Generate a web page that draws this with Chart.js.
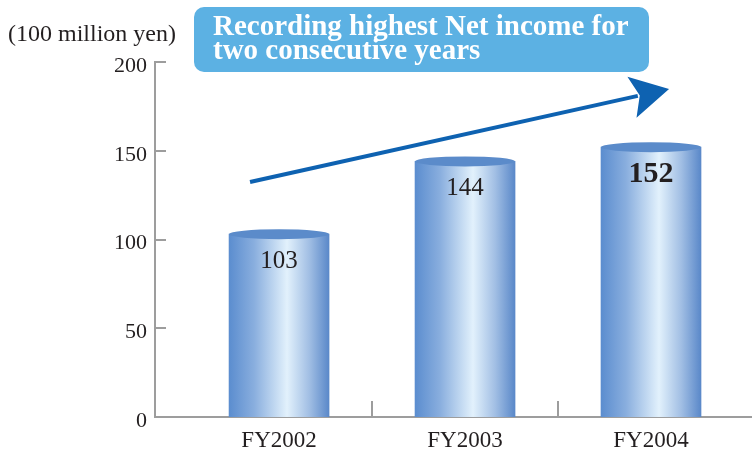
<!DOCTYPE html>
<html lang="en">
  <head>
    <meta charset="UTF-8" />
    <title>Net income</title>
    <script src="https://cdn.jsdelivr.net/npm/chart.js"></script>
    <style>
      html, body {
        margin: 0;
        padding: 0;
        background: #ffffff;
      }
      #wrap {
        width: 752px;
        height: 451px;
      }
    </style>
  </head>
  <body>
    <div id="wrap"><canvas id="chart" width="752" height="451"></canvas></div>

    <script>
      const categories = ["FY2002", "FY2003", "FY2004"];
      const netIncome = [103, 144, 152];
      const yTicks = [0, 50, 100, 150, 200];
      const unitLabel = "(100 million yen)";
      const headline = ["Recording highest Net income for", "two consecutive years"];

      const SERIF = "'Liberation Serif', 'DejaVu Serif', serif";
      const TEXT = "#231f20";
      const AXIS = "#9d9d9d";

      // horizontal shading for one cylinder body
      function cylinderFill(ctx, cx, w) {
        const g = ctx.createLinearGradient(cx - w / 2, 0, cx + w / 2, 0);
        g.addColorStop(0, "#5b8dcf");
        g.addColorStop(0.25, "#89aede");
        g.addColorStop(0.58, "#e2f1fc");
        g.addColorStop(0.8, "#a2bfe4");
        g.addColorStop(1, "#5a88c9");
        return g;
      }

      const decorations = {
        id: "decorations",
        beforeDatasetsDraw(chart) {
          // bars share one options object, so give each its own copy
          const meta = chart.getDatasetMeta(0);
          meta.data.forEach((bar) => {
            if (isFinite(bar.x) && bar.options) {
              bar.options = Object.assign({}, bar.options, {
                backgroundColor: cylinderFill(chart.ctx, bar.x, bar.width),
              });
            }
          });
        },
        afterDatasetsDraw(chart) {
          const ctx = chart.ctx;
          const meta = chart.getDatasetMeta(0);
          const last = meta.data.length - 1;
          ctx.save();
          meta.data.forEach((bar, i) => {
            // cylinder lid
            ctx.beginPath();
            ctx.ellipse(bar.x, bar.y, bar.width / 2, 5, 0, 0, Math.PI * 2);
            ctx.fillStyle = "#5b8bca";
            ctx.fill();
            // value label
            ctx.fillStyle = TEXT;
            ctx.textAlign = "center";
            ctx.textBaseline = "middle";
            ctx.font = i === last ? "bold 30px " + SERIF : "25px " + SERIF;
            ctx.fillText(String(netIncome[i]), bar.x, bar.y + 27);
          });
          ctx.restore();
        },
        afterDraw(chart) {
          const ctx = chart.ctx;
          const xs = chart.scales.x;
          const ys = chart.scales.y;
          const area = chart.chartArea;
          ctx.save();

          // inward tick marks on the value axis
          ctx.strokeStyle = AXIS;
          ctx.lineWidth = 2;
          yTicks.forEach((v) => {
            if (v === 0) return;
            const y = Math.round(ys.getPixelForValue(v));
            ctx.beginPath();
            ctx.moveTo(area.left, y);
            ctx.lineTo(area.left + 11, y);
            ctx.stroke();
          });

          // short dividers between categories
          for (let i = 0; i < categories.length - 1; i++) {
            const x = Math.round(xs.getPixelForValue(i + 0.5));
            ctx.beginPath();
            ctx.moveTo(x, area.bottom);
            ctx.lineTo(x, area.bottom - 16);
            ctx.stroke();
          }

          // unit label
          ctx.fillStyle = TEXT;
          ctx.font = "24px " + SERIF;
          ctx.textAlign = "left";
          ctx.textBaseline = "alphabetic";
          ctx.fillText(unitLabel, 8, 41);

          // headline box
          ctx.fillStyle = "#5cb1e3";
          ctx.beginPath();
          ctx.roundRect(194, 7, 455, 65, 10);
          ctx.fill();
          ctx.fillStyle = "#ffffff";
          ctx.font = "bold 29px " + SERIF;
          ctx.fillText(headline[0], 213, 35);
          ctx.fillText(headline[1], 213, 59);

          // trend arrow
          const x0 = xs.getPixelForValue(-0.156);
          const y0 = ys.getPixelForValue(132.4);
          const x1 = xs.getPixelForValue(2.097);
          const y1 = ys.getPixelForValue(184.8);
          const dx = x1 - x0;
          const dy = y1 - y0;
          const len = Math.hypot(dx, dy);
          const ux = dx / len;
          const uy = dy / len;
          const headLen = 38;
          const halfW = 21;
          const bx = x1 - ux * headLen;
          const by = y1 - uy * headLen;
          ctx.strokeStyle = "#0e62b1";
          ctx.fillStyle = "#0e62b1";
          ctx.lineWidth = 4;
          ctx.beginPath();
          ctx.moveTo(x0, y0);
          ctx.lineTo(bx + ux * 6, by + uy * 6);
          ctx.stroke();
          ctx.beginPath();
          ctx.moveTo(x1, y1);
          ctx.lineTo(bx - uy * halfW, by + ux * halfW);
          ctx.lineTo(bx + ux * 8, by + uy * 8);
          ctx.lineTo(bx + uy * halfW, by - ux * halfW);
          ctx.closePath();
          ctx.fill();

          ctx.restore();
        },
      };

      new Chart(document.getElementById("chart"), {
        type: "bar",
        data: {
          datasets: [
            {
              data: netIncome.map((v, i) => ({ x: i, y: v })),
              backgroundColor: "#7aa3d8",
              borderWidth: 0,
              barThickness: 100,
            },
          ],
        },
        options: {
          responsive: false,
          animation: false,
          events: [],
          layout: { padding: { top: 62, left: 0, right: 0, bottom: 0 } },
          plugins: {
            legend: { display: false },
            tooltip: { enabled: false },
          },
          scales: {
            x: {
              type: "linear",
              min: -0.667,
              max: 2.543,
              offset: false,
              afterBuildTicks: (scale) => {
                scale.ticks = categories.map((_, i) => ({ value: i }));
              },
              afterFit: (scale) => {
                scale.height = 34;
              },
              ticks: {
                padding: 10,
                color: TEXT,
                font: { family: SERIF, size: 23 },
                callback: (v) => categories[v] ?? "",
              },
              grid: { display: false, drawTicks: false },
              border: { display: true, color: AXIS, width: 2 },
            },
            y: {
              min: 0,
              max: 200,
              afterBuildTicks: (scale) => {
                scale.ticks = yTicks.map((v) => ({ value: v }));
              },
              afterFit: (scale) => {
                scale.width = 155;
              },
              ticks: {
                padding: 8,
                labelOffset: 4,
                color: TEXT,
                font: { family: SERIF, size: 22 },
              },
              grid: { display: false, drawTicks: false },
              border: { display: true, color: AXIS, width: 2 },
            },
          },
        },
        plugins: [decorations],
      });
    </script>
  </body>
</html>
